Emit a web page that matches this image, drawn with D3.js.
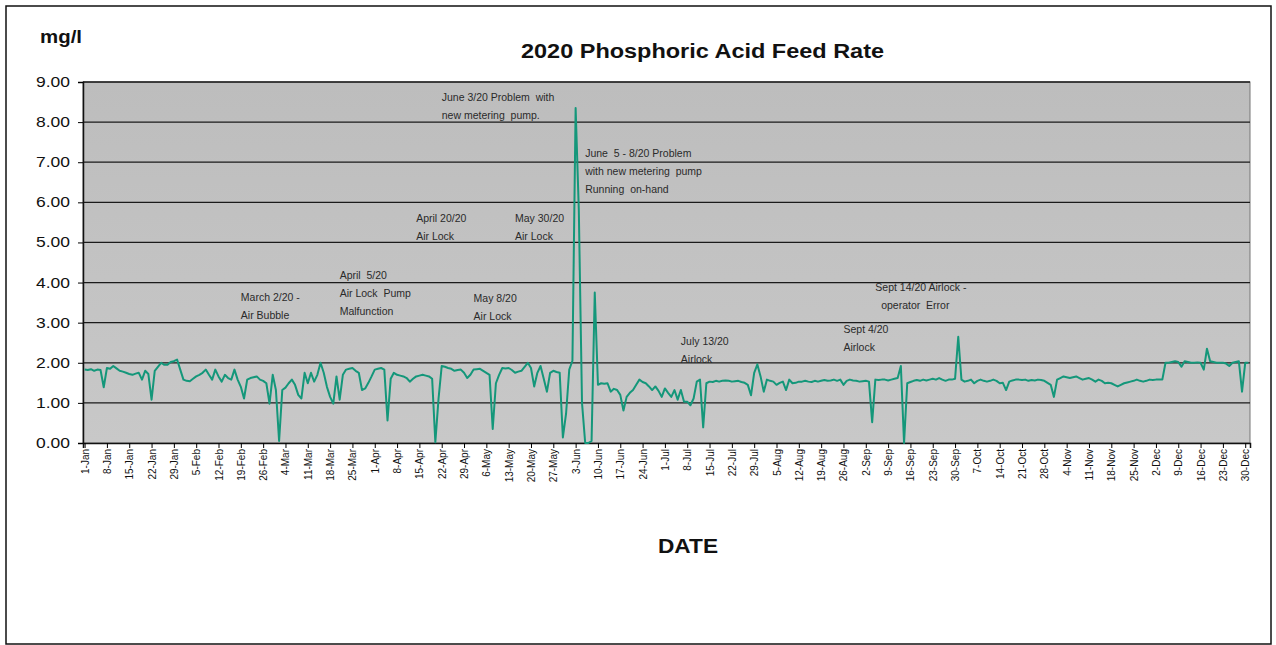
<!DOCTYPE html>
<html lang="en">
<head>
  <meta charset="UTF-8">
  <title>2020 Phosphoric Acid Feed Rate</title>
  <script src="https://d3js.org/d3.v7.min.js"></script>
  <style>
    body { margin: 0; background: #fff; font-family: "Liberation Sans", Arial, sans-serif; }
    .ytick text { font-size: 14px; fill: #111; }
    .xtick text { font-size: 10px; fill: #111; }
    .note { font-size: 10.5px; fill: #2a2a2a; }
  </style>
</head>
<body>
  <svg id="chart" width="1276" height="645"></svg>

  <script>
    // daily feed rate (mg/l), one value per day of 2020
    const feedRate = [
      1.83,1.82,1.84,1.80,1.83,1.82,1.39,
      1.87,1.85,1.92,1.86,1.80,1.78,1.75,
      1.72,1.70,1.73,1.75,1.58,1.80,1.72,
      1.08,1.80,1.90,2.00,1.95,1.95,2.02,
      2.04,2.08,1.83,1.58,1.55,1.54,1.60,
      1.66,1.70,1.75,1.83,1.70,1.58,1.83,
      1.66,1.53,1.70,1.62,1.58,1.83,1.58,
      1.40,1.11,1.58,1.62,1.64,1.66,1.58,
      1.55,1.49,0.98,1.70,1.32,0.05,1.32,
      1.38,1.49,1.58,1.45,1.20,1.11,1.75,
      1.49,1.75,1.53,1.70,2.00,1.75,1.40,
      1.15,0.98,1.66,1.08,1.70,1.83,1.85,
      1.87,1.80,1.75,1.32,1.36,1.50,1.66,
      1.83,1.85,1.87,1.83,0.56,1.60,1.75,
      1.70,1.68,1.66,1.62,1.53,1.60,1.66,
      1.68,1.70,1.68,1.66,1.60,0.02,1.10,
      1.92,1.90,1.87,1.85,1.80,1.82,1.83,
      1.75,1.62,1.70,1.83,1.84,1.85,1.80,
      1.75,1.70,0.35,1.49,1.70,1.87,1.86,
      1.87,1.82,1.75,1.78,1.80,1.90,2.00,
      1.87,1.41,1.75,1.92,1.60,1.28,1.75,
      1.80,1.77,1.75,0.14,0.73,1.83,2.05,
      8.35,5.80,1.00,0.00,0.00,0.05,3.75,
      1.45,1.49,1.48,1.49,1.28,1.35,1.32,
      1.20,0.81,1.15,1.25,1.32,1.45,1.58,
      1.52,1.49,1.41,1.32,1.41,1.30,1.15,
      1.36,1.25,1.15,1.32,1.08,1.32,1.03,
      1.03,0.94,1.11,1.53,1.58,0.39,1.49,
      1.53,1.52,1.55,1.53,1.55,1.56,1.55,
      1.53,1.54,1.55,1.52,1.50,1.45,1.19,
      1.75,1.96,1.66,1.28,1.58,1.55,1.53,
      1.45,1.50,1.53,1.32,1.58,1.49,1.50,
      1.53,1.53,1.55,1.53,1.52,1.55,1.53,
      1.55,1.57,1.55,1.56,1.58,1.55,1.58,
      1.45,1.55,1.58,1.56,1.55,1.53,1.54,
      1.55,1.53,0.52,1.58,1.57,1.58,1.58,
      1.56,1.58,1.60,1.62,1.92,0.00,1.49,
      1.52,1.55,1.57,1.55,1.58,1.56,1.58,
      1.60,1.58,1.62,1.58,1.55,1.58,1.58,
      1.60,2.65,1.58,1.53,1.55,1.58,1.49,
      1.55,1.58,1.55,1.53,1.55,1.58,1.55,
      1.49,1.50,1.32,1.53,1.56,1.58,1.58,
      1.57,1.58,1.55,1.57,1.56,1.58,1.57,
      1.55,1.50,1.45,1.15,1.58,1.62,1.66,
      1.64,1.62,1.64,1.66,1.62,1.58,1.60,
      1.62,1.58,1.53,1.58,1.55,1.49,1.50,
      1.49,1.45,1.41,1.45,1.49,1.51,1.53,
      1.55,1.58,1.55,1.53,1.55,1.58,1.57,
      1.58,1.58,1.58,2.00,2.00,2.02,2.04,
      2.02,1.90,2.04,2.02,2.00,2.00,2.01,
      2.00,1.83,2.35,2.04,2.02,2.00,2.00,
      2.00,1.98,1.92,2.00,2.02,2.04,1.28,
      2.00,2.00
    ];

    // categories: every day of 2020, labelled every 7th day
    const days = d3.timeDay.range(new Date(2020, 0, 1), new Date(2021, 0, 1));
    const tickEvery = 7;
    const yTicks = [0, 1, 2, 3, 4, 5, 6, 7, 8, 9];

    // notes written on the chart, anchored at (day index, mg/l)
    const noteText = [
      ["June 3/20 Problem  with", "new metering  pump."],
      ["June  5 - 8/20 Problem", "with new metering  pump", "Running  on-hand"],
      ["April 20/20", "Air Lock"],
      ["May 30/20", "Air Lock"],
      ["May 8/20", "Air Lock"],
      ["April  5/20", "Air Lock  Pump", "Malfunction"],
      ["March 2/20 -", "Air Bubble"],
      ["July 13/20", "Airlock"],
      ["Sept 4/20", "Airlock"],
      ["Sept 14/20 Airlock -", "  operator  Error"]
    ];
    const noteDay = [111.5, 157, 103.5, 134.5, 122, 79.5, 48.5, 187, 237.5, 248];
    const noteValue = [8.53, 7.14, 5.52, 5.52, 3.52, 4.1, 3.55, 2.45, 2.75, 3.8];

    const svg = d3.select("#chart");
    const plotL = 83, plotR = 1250, plotT = 82, plotB = 443;

    svg.append("rect")
      .attr("x", 6).attr("y", 6).attr("width", 1265).attr("height", 638)
      .attr("fill", "#fff").attr("stroke", "#111").attr("stroke-width", 1.5);

    const x = d3.scalePoint().domain(d3.range(feedRate.length)).range([plotL, plotR]).padding(0.5);
    const y = d3.scaleLinear().domain([0, 9]).range([plotB, plotT]);

    // plot area
    const grad = svg.append("defs").append("linearGradient")
      .attr("id", "bg").attr("x1", 0).attr("x2", 0).attr("y1", 0).attr("y2", 1);
    grad.append("stop").attr("offset", "0%").attr("stop-color", "#bdbdbd");
    grad.append("stop").attr("offset", "100%").attr("stop-color", "#c8c8c8");

    svg.append("rect")
      .attr("x", plotL).attr("y", plotT)
      .attr("width", plotR - plotL).attr("height", plotB - plotT)
      .attr("fill", "url(#bg)").attr("stroke", "#777").attr("stroke-width", 1);

    svg.append("g")
      .selectAll("line")
      .data(yTicks.filter(d => d > 0))
      .join("line")
      .attr("x1", plotL).attr("x2", plotR)
      .attr("y1", d => y(d)).attr("y2", d => y(d))
      .attr("stroke", "#1a1a1a").attr("stroke-width", 1.3);

    // axes
    const yAxis = svg.append("g")
      .attr("class", "ytick")
      .attr("transform", `translate(${plotL},0)`)
      .call(d3.axisLeft(y).tickValues(yTicks).tickFormat(d3.format(".2f")).tickSize(5).tickPadding(8));
    yAxis.select(".domain").attr("stroke", "#111").attr("stroke-width", 1.5);
    yAxis.selectAll("text")
      .attr("textLength", 34).attr("lengthAdjust", "spacingAndGlyphs");

    const fmt = d3.timeFormat("%-d-%b");
    const xAxis = svg.append("g")
      .attr("class", "xtick")
      .attr("transform", `translate(0,${plotB})`)
      .call(d3.axisBottom(x)
        .tickValues(d3.range(0, feedRate.length, tickEvery))
        .tickFormat(i => fmt(days[i]))
        .tickSize(5));
    xAxis.select(".domain").attr("stroke", "#111").attr("stroke-width", 1.5);
    xAxis.selectAll("text")
      .attr("transform", "rotate(-90)")
      .attr("text-anchor", "end")
      .attr("dx", "-0.6em")
      .attr("dy", 0)
      .attr("x", 0).attr("y", 0)
      .style("dominant-baseline", "central");

    // feed rate line
    const line = d3.line()
      .x((d, i) => x(i))
      .y(d => y(d));

    svg.append("path")
      .datum(feedRate)
      .attr("d", line)
      .attr("fill", "none")
      .attr("stroke", "#14977a")
      .attr("stroke-width", 2)
      .attr("stroke-linejoin", "round");

    // notes
    noteText.forEach((lines, k) => {
      const t = svg.append("text")
        .attr("class", "note")
        .attr("x", x(Math.round(noteDay[k])))
        .attr("y", y(noteValue[k]))
        .attr("xml:space", "preserve");
      lines.forEach((s, j) => {
        t.append("tspan")
          .attr("x", x(Math.round(noteDay[k])))
          .attr("dy", j === 0 ? 0 : 18)
          .text(s);
      });
    });

    // titles
    svg.append("text")
      .attr("x", 40).attr("y", 43)
      .attr("textLength", 42).attr("lengthAdjust", "spacingAndGlyphs")
      .style("font-size", "19px").style("font-weight", "bold").attr("fill", "#111")
      .text("mg/l");

    svg.append("text")
      .attr("x", 521).attr("y", 58)
      .attr("textLength", 363).attr("lengthAdjust", "spacingAndGlyphs")
      .style("font-size", "20px").style("font-weight", "bold").attr("fill", "#111")
      .text("2020 Phosphoric Acid Feed Rate");

    svg.append("text")
      .attr("x", 658).attr("y", 553)
      .attr("textLength", 60).attr("lengthAdjust", "spacingAndGlyphs")
      .style("font-size", "21px").style("font-weight", "bold").attr("fill", "#111")
      .text("DATE");
  </script>
</body>
</html>
